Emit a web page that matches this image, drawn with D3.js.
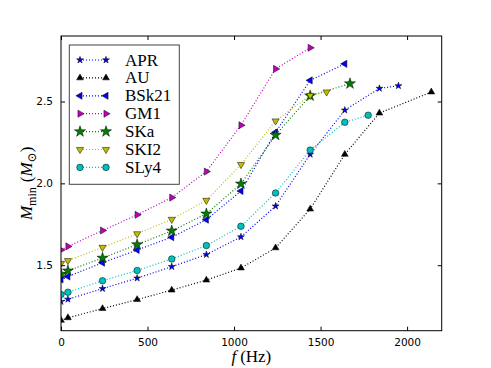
<!DOCTYPE html>
<html><head><meta charset="utf-8">
<script src="https://cdn.jsdelivr.net/npm/d3@7"></script>
<style>body{margin:0;background:#fff}svg{display:block}</style>
</head><body><div id="c"></div>
<script>
const names = ["APR","AU","BSk21","GM1","SKa","SKI2","SLy4"];
const freqAPR  = [0,40,240,440,640,840,1040,1240,1440,1640,1840,1950];
const massAPR  = [1.278,1.292,1.357,1.421,1.491,1.565,1.673,1.861,2.177,2.447,2.580,2.596];
const freqAU   = [0,40,240,440,640,840,1040,1240,1440,1640,1840,2140];
const massAU   = [1.163,1.179,1.235,1.290,1.348,1.409,1.483,1.606,1.843,2.177,2.429,2.558];
const freqBSk  = [0,40,240,440,640,840,1040,1240,1440,1640];
const massBSk  = [1.413,1.431,1.515,1.593,1.671,1.778,1.953,2.312,2.629,2.730];
const freqGM1  = [0,40,240,440,640,840,1040,1240,1440];
const massGM1  = [1.593,1.615,1.712,1.808,1.913,2.072,2.355,2.699,2.828];
const freqSKa  = [0,40,240,440,640,840,1040,1240,1440,1670];
const massSKa  = [1.446,1.466,1.544,1.626,1.710,1.814,1.997,2.295,2.535,2.609];
const freqSKI2 = [0,40,240,440,640,840,1040,1240,1440,1535];
const massSKI2 = [1.511,1.528,1.609,1.692,1.780,1.896,2.115,2.381,2.537,2.558];
const freqSLy4 = [0,40,240,440,640,840,1040,1240,1440,1640,1775];
const massSLy4 = [1.321,1.335,1.405,1.468,1.538,1.620,1.738,1.941,2.203,2.373,2.416];
const xTicks = [0,500,1000,1500,2000];
const yTicks = [1.5,2.0,2.5];

const series = [
  {name:"APR",  f:freqAPR,  m:massAPR,  line:"#0000ff", fill:"#0000ff", sym:d3.symbolStar, size:15, rot:0},
  {name:"AU",   f:freqAU,   m:massAU,   line:"#000000", fill:"#000000", sym:d3.symbolTriangle, size:20, rot:0},
  {name:"BSk21",f:freqBSk,  m:massBSk,  line:"#0000ff", fill:"#0000ff", sym:d3.symbolTriangle, size:22, rot:-90},
  {name:"GM1",  f:freqGM1,  m:massGM1,  line:"#bf00bf", fill:"#bf00bf", sym:d3.symbolTriangle, size:22, rot:90},
  {name:"SKa",  f:freqSKa,  m:massSKa,  line:"#008000", fill:"#008000", sym:d3.symbolStar, size:38, rot:0},
  {name:"SKI2", f:freqSKI2, m:massSKI2, line:"#bfbf00", fill:"#bfbf00", sym:d3.symbolTriangle, size:22, rot:180},
  {name:"SLy4", f:freqSLy4, m:massSLy4, line:"#00bfbf", fill:"#00bfbf", sym:d3.symbolCircle, size:34, rot:0}
];

const W=491,H=368, L=61, R=441.7, T=36, B=330.7;
const svg = d3.select("#c").append("svg").attr("width",W).attr("height",H);
const x = d3.scaleLinear().domain([0,2200]).range([L,R]);
const y = d3.scaleLinear().domain([1.1,2.9]).range([B,T]);

svg.append("clipPath").attr("id","clip").append("rect")
  .attr("x",L).attr("y",T).attr("width",R-L).attr("height",B-T);

const g = svg.append("g").attr("clip-path","url(#clip)");
const lineGen = d3.line().x(d=>x(d[0])).y(d=>y(d[1]));
series.forEach(s=>{
  const pts = s.f.map((f,i)=>[f,s.m[i]]);
  g.append("path").attr("d",lineGen(pts)).attr("fill","none")
    .attr("stroke",s.line).attr("stroke-width",1.2).attr("stroke-dasharray","1,2");
  g.selectAll(null).data(pts).enter().append("path")
    .attr("d",d3.symbol().type(s.sym).size(s.size))
    .attr("transform",d=>`translate(${x(d[0])},${y(d[1])}) rotate(${s.rot})`)
    .attr("fill",s.fill).attr("stroke","#000").attr("stroke-width",0.5);
});

// axes frame and ticks (inward)
const axBottom = d3.axisBottom(x).tickValues(xTicks).tickSizeInner(-4).tickSizeOuter(0).tickPadding(8).tickFormat(d3.format("d"));
const axTop = d3.axisTop(x).tickValues(xTicks).tickSizeInner(-4).tickSizeOuter(0).tickFormat("");
const axLeft = d3.axisLeft(y).tickValues(yTicks).tickSizeInner(-4).tickSizeOuter(0).tickPadding(8).tickFormat(d3.format(".1f"));
const axRight = d3.axisRight(y).tickValues(yTicks).tickSizeInner(-4).tickSizeOuter(0).tickFormat("");
[[axBottom,`translate(0,${B})`],[axTop,`translate(0,${T})`],[axLeft,`translate(${L},0)`],[axRight,`translate(${R},0)`]].forEach(([a,t])=>{
  const gg = svg.append("g").attr("transform",t).call(a);
  gg.select(".domain").remove();
  gg.selectAll("line").attr("stroke","#000").attr("stroke-width",1);
  gg.selectAll("text").attr("font-family","DejaVu Sans").attr("font-size",10.5).attr("fill","#000");
});
svg.append("rect").attr("x",L).attr("y",T).attr("width",R-L).attr("height",B-T)
  .attr("fill","none").attr("stroke","#000").attr("stroke-width",1);

// axis labels
const serif = "'Liberation Serif', 'DejaVu Serif', serif";
const xl = svg.append("text").attr("x",(L+R)/2).attr("y",362).attr("text-anchor","middle")
  .attr("font-family",serif).attr("font-size",17);
xl.append("tspan").attr("font-style","italic").text("f");
xl.append("tspan").attr("dx",4).text("(Hz)");

const yl = svg.append("text").attr("transform",`translate(32,${(T+B)/2}) rotate(-90)`).attr("text-anchor","middle")
  .attr("font-family",serif).attr("font-size",17);
yl.append("tspan").attr("font-style","italic").text("M");
yl.append("tspan").attr("font-size",12).attr("dy",4).text("min");
yl.append("tspan").attr("dy",-4).attr("dx",5).text("(");
yl.append("tspan").attr("font-style","italic").text("M");
yl.append("tspan").attr("font-size",12).attr("dy",4).text("⊙");
yl.append("tspan").attr("dy",-4).text(")");

// legend
const lg = svg.append("g");
lg.append("rect").attr("x",69.3).attr("y",45).attr("width",110).attr("height",139.3)
  .attr("fill","#fff").attr("stroke","#444").attr("stroke-width",1);
series.forEach((s,i)=>{
  const yy = 60 + i*17.9;
  lg.append("line").attr("x1",80).attr("x2",106).attr("y1",yy).attr("y2",yy)
    .attr("stroke",s.line).attr("stroke-width",1.2).attr("stroke-dasharray","1,2");
  [80,106].forEach(xx=>{
    lg.append("path").attr("d",d3.symbol().type(s.sym).size(s.size))
      .attr("transform",`translate(${xx},${yy}) rotate(${s.rot})`)
      .attr("fill",s.fill).attr("stroke","#000").attr("stroke-width",0.5);
  });
  lg.append("text").attr("x",125).attr("y",yy+5.5).attr("font-family",serif)
    .attr("font-size",17).text(s.name);
});
</script></body></html>
